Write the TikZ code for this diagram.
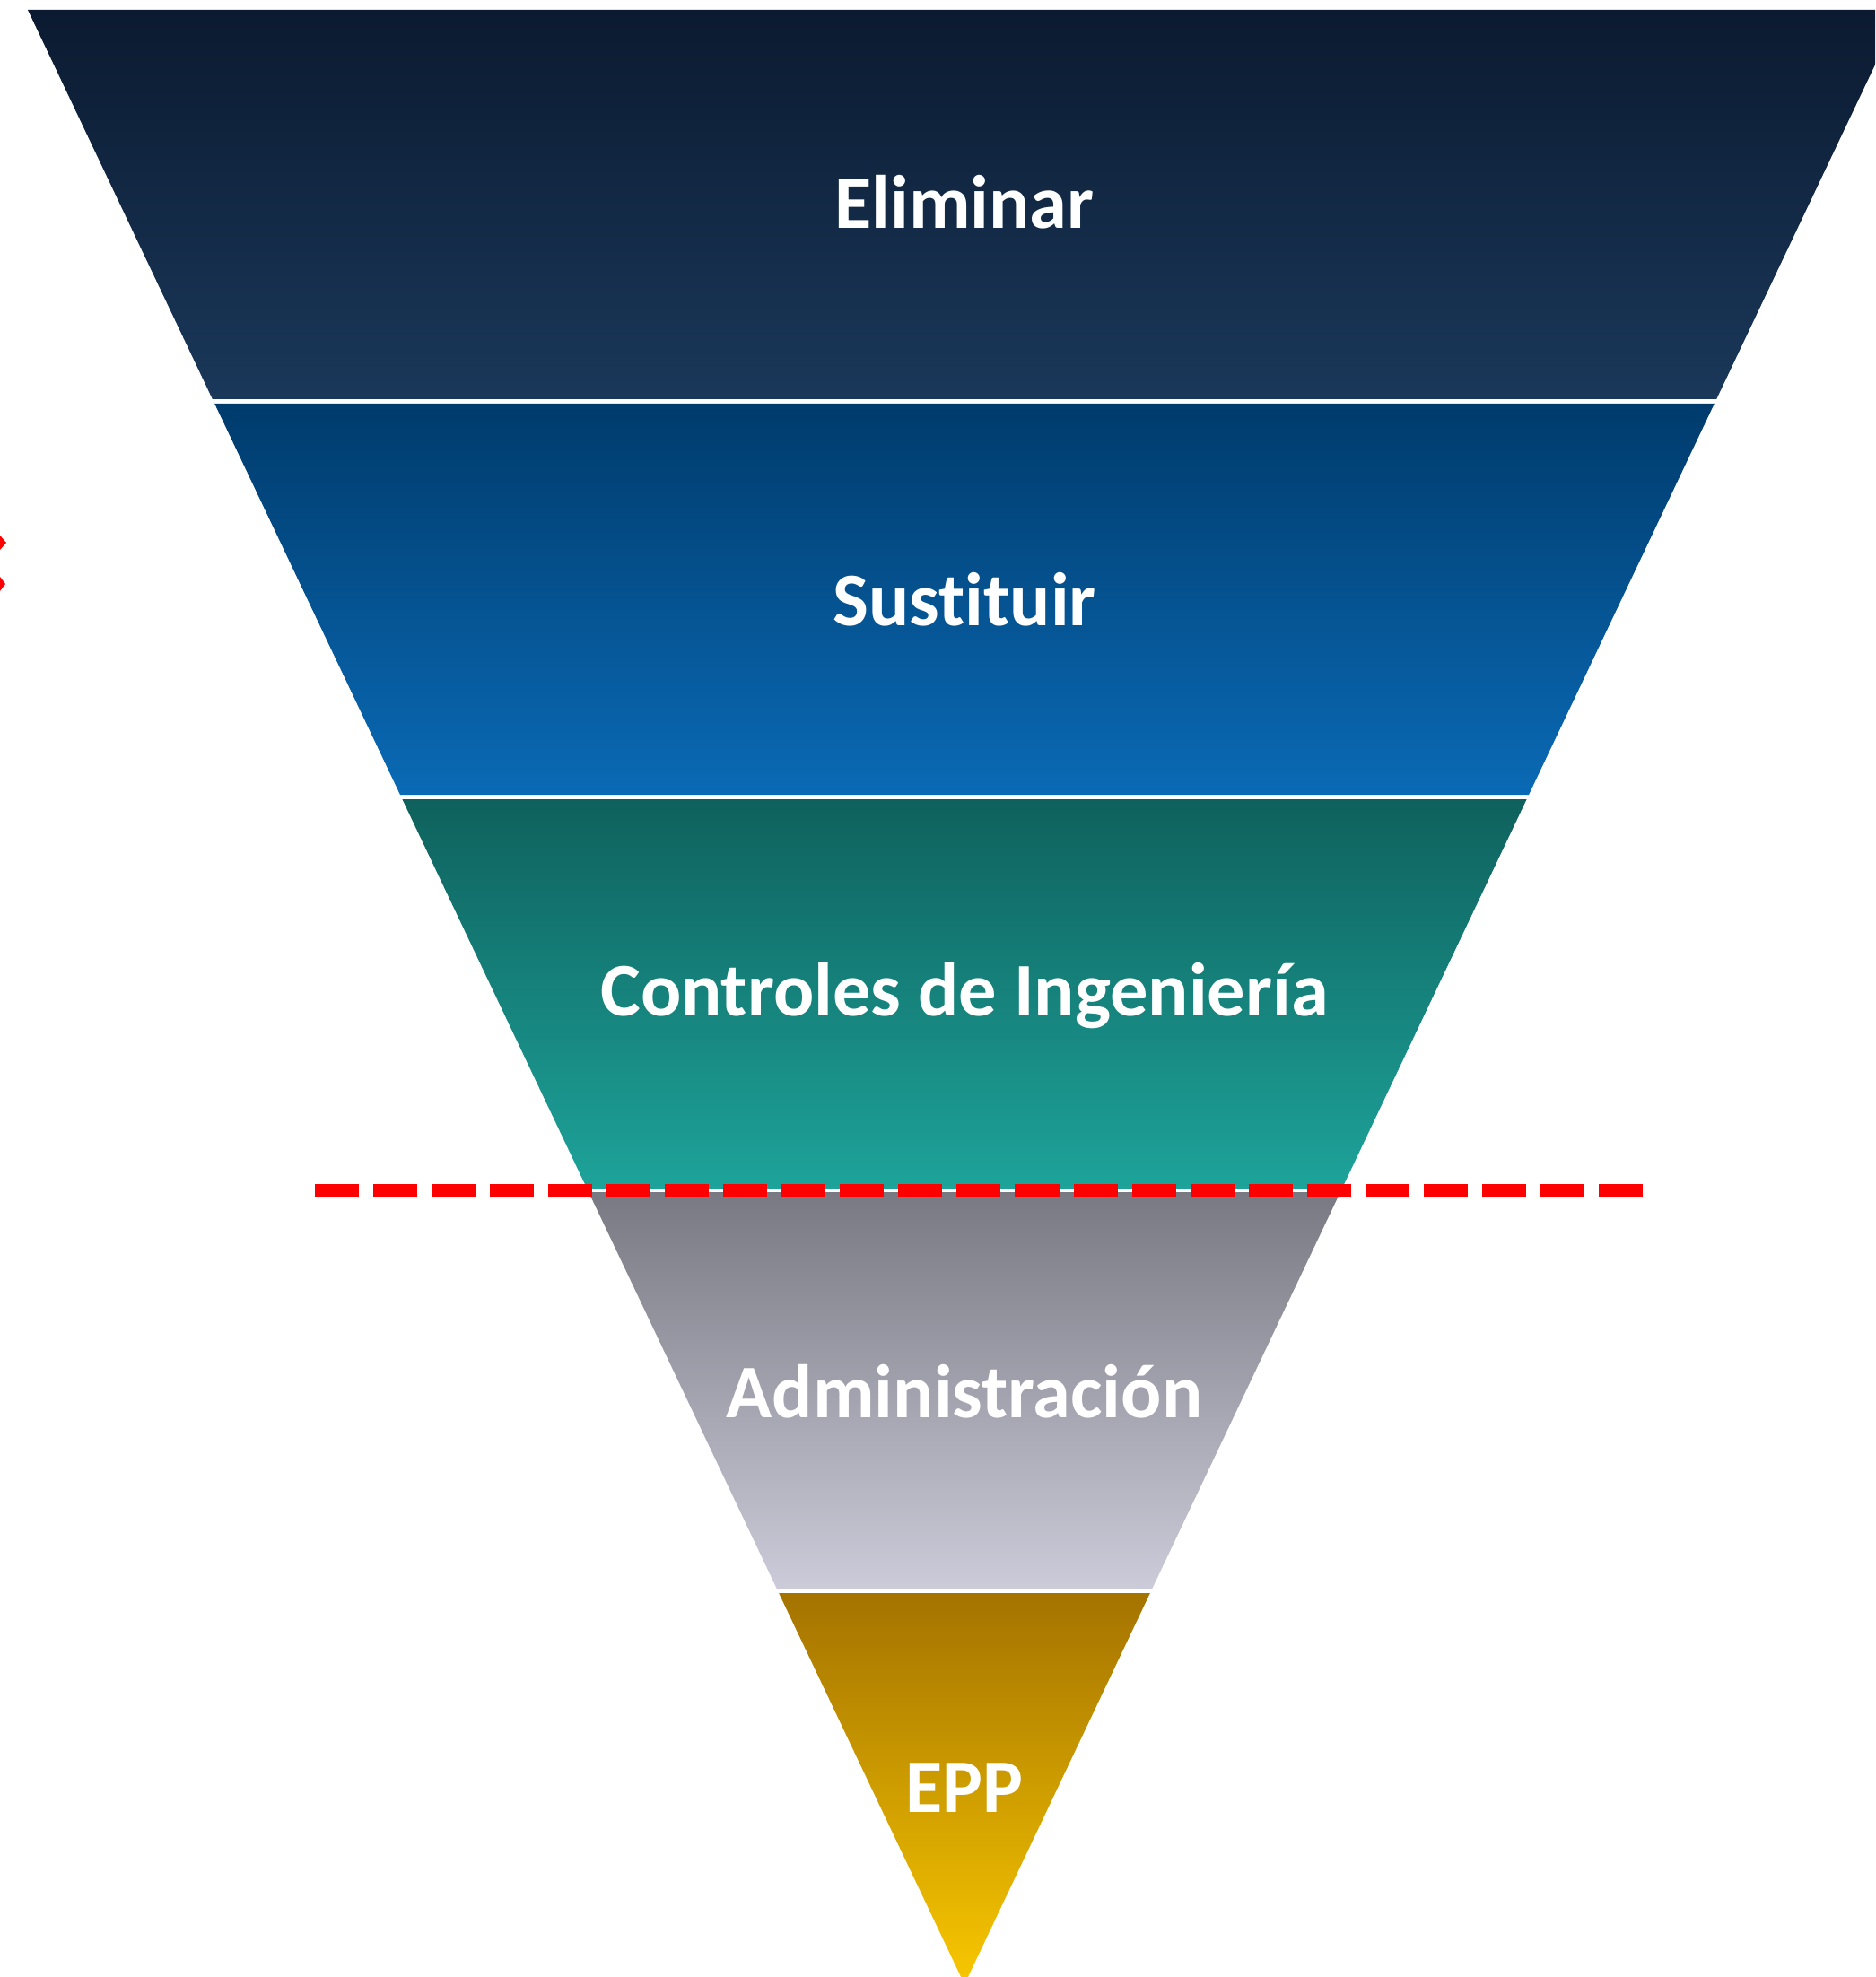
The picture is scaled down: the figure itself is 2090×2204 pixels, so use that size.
\documentclass[tikz,border=0pt]{standalone}
\usepackage{fontspec}
\newfontfamily\bandfont{Carlito}[Ligatures=NoCommon]
\usepackage{tikz}
\usetikzlibrary{
        backgrounds,
        positioning
    }
\definecolor{elimtop}{HTML}{0B1A30}
\definecolor{elimbot}{HTML}{1A385A}
\definecolor{susttop}{HTML}{003B6C}
\definecolor{sustbot}{HTML}{0A6AB5}
\definecolor{ctrltop}{HTML}{0F615D}
\definecolor{ctrlbot}{HTML}{1DA39A}
\definecolor{admintop}{HTML}{797983}
\definecolor{adminbot}{HTML}{CBCBD9}
\definecolor{epptop}{HTML}{A47300}
\definecolor{eppbot}{HTML}{F8C700}
\definecolor{limitred}{HTML}{FF0000}
\tikzset{x=0.01cm,y=-0.01cm}
\tikzset{bandlabel/.style={text=white,font=\bandfont\bfseries\fontsize{24}{28}\selectfont}}
\tikzset{limitline/.style={draw=limitred,line width=0.14cm,dash pattern=on 0.49cm off 0.16cm}}
% one trapezoid of the funnel, from y=#1 to y=#2
\newcommand{\band}[4]{%
    \shade[top color=#3,bottom color=#4]
        ({31+0.4743*(#1-11)},#1) -- ({2119-0.4743*(#1-11)},#1)
        -- ({2119-0.4743*(#2-11)},#2) -- ({31+0.4743*(#2-11)},#2) -- cycle;}

\begin{document}
\begin{tikzpicture}
    \useasboundingbox (0,0) rectangle (2090,2204);
    \clip (0,0) rectangle (2090,2204);
    \fill[white] (0,0) rectangle (2090,2204);

    % funnel bands
    \band{11}{445}{elimtop}{elimbot}
    \band{450}{886}{susttop}{sustbot}
    \band{891}{1325}{ctrltop}{ctrlbot}
    \band{1329}{1771}{admintop}{adminbot}
    \band{1776}{2212}{epptop}{eppbot}

    % labels
    \node[bandlabel] (elim)  at (1075,225)  {Eliminar};
    \node[bandlabel] (sust)  at (1075,668)  {Sustituir};
    \node[bandlabel] (ctrl)  at (1075,1110) {Controles de Ingeniería};
    \node[bandlabel] (admin) at (1075,1551) {Administración};
    \node[bandlabel] (epp)   at (1075,1993) {EPP};

    % red limit
    \coordinate (limA) at (351,1327);
    \coordinate (limB) at (1836,1327);
    \draw[limitline] (limA) -- (limB);

    % marks at the left edge
    \fill[limitred] (-8,605) -- (0,597) -- (7,605) -- (0,613) -- cycle;
    \fill[limitred] (-8,651) -- (0,643) -- (6,651) -- (0,659) -- cycle;
\end{tikzpicture}
\end{document}
